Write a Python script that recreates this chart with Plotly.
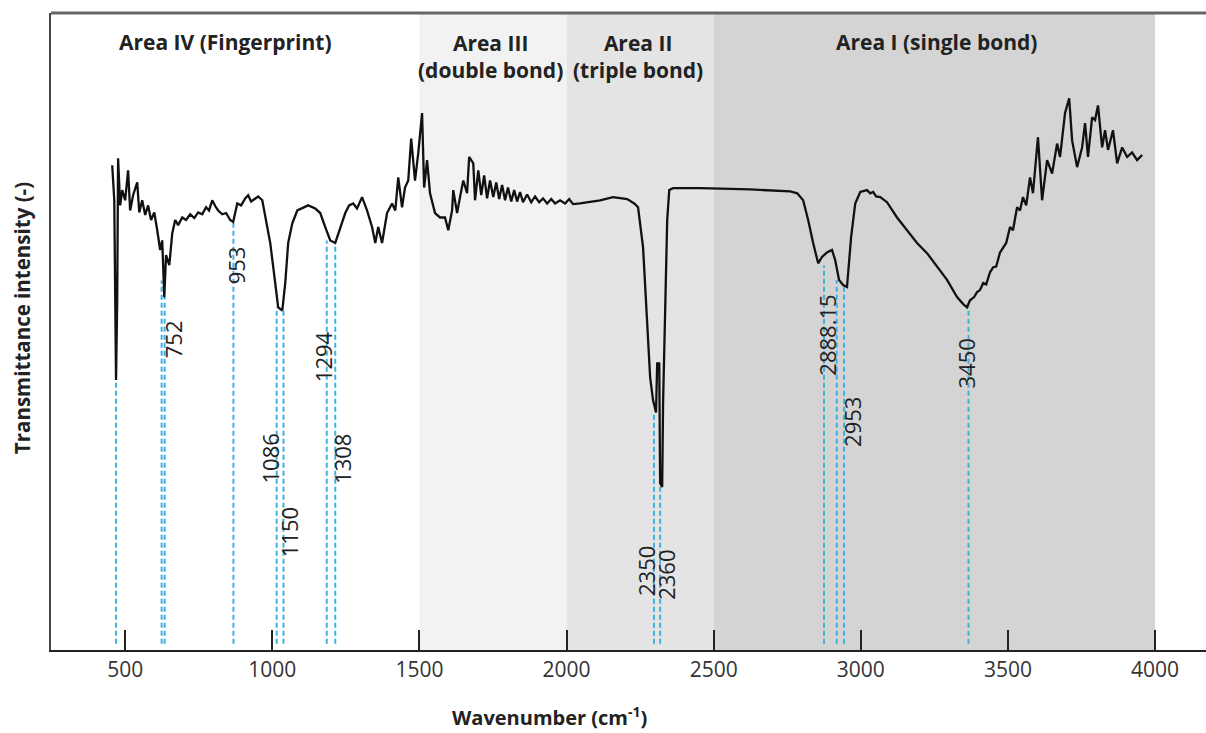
import plotly.graph_objects as go

# ---------------- data ----------------
wavenumber = [456, 463, 469, 473, 476, 483, 490, 500, 510, 517, 527, 541, 548, 558, 568, 578, 588, 599,
              609, 619, 626, 633, 639, 650, 660, 670, 680, 694, 707, 721, 735, 748, 762, 775, 785, 796,
              806, 816, 830, 843, 857, 867, 881, 894, 908, 918, 928, 942, 952, 966, 983, 993, 1010, 1020,
              1034, 1044, 1054, 1068, 1085, 1101, 1122, 1146, 1163, 1180, 1197, 1214, 1231, 1248, 1261,
              1275, 1288, 1305, 1322, 1339, 1350, 1360, 1373, 1390, 1407, 1418, 1428, 1441, 1451, 1462,
              1472, 1485, 1496, 1509, 1516, 1526, 1536, 1553, 1570, 1587, 1598, 1611, 1615, 1628, 1638,
              1649, 1662, 1669, 1683, 1689, 1700, 1710, 1720, 1730, 1740, 1751, 1761, 1771, 1781, 1791,
              1801, 1812, 1822, 1832, 1842, 1852, 1866, 1880, 1893, 1907, 1920, 1934, 1948, 1961, 1978,
              1995, 2009, 2022, 2046, 2080, 2114, 2158, 2206, 2230, 2243, 2260, 2274, 2284, 2294, 2304,
              2308, 2315, 2318, 2325, 2328, 2335, 2342, 2349, 2362, 2454, 2624, 2760, 2784, 2804, 2821,
              2838, 2855, 2868, 2885, 2902, 2913, 2926, 2940, 2953, 2957, 2967, 2981, 2998, 3021, 3032,
              3042, 3052, 3066, 3089, 3123, 3157, 3191, 3225, 3259, 3293, 3327, 3348, 3361, 3371, 3385,
              3395, 3405, 3416, 3426, 3439, 3450, 3460, 3473, 3483, 3494, 3507, 3517, 3531, 3541, 3551,
              3562, 3575, 3585, 3602, 3616, 3633, 3650, 3667, 3677, 3694, 3708, 3718, 3735, 3752, 3762,
              3772, 3786, 3796, 3806, 3820, 3830, 3840, 3857, 3871, 3888, 3905, 3922, 3939, 3956]
transmittance = [76.1, 70.6, 42.4, 54.9, 77.2, 69.8, 72.2, 70.6, 75.3, 69.0, 71.4, 73.4, 68.7, 70.6, 68.3,
                 69.8, 67.5, 68.7, 65.9, 62.8, 64.3, 55.4, 62.0, 60.4, 65.4, 67.5, 66.7, 67.9, 67.5, 68.4,
                 67.8, 68.7, 68.4, 69.5, 69.0, 70.6, 69.7, 69.0, 68.4, 68.6, 67.5, 67.2, 70.1, 69.8, 70.9,
                 71.4, 70.4, 70.9, 71.2, 70.6, 66.4, 63.9, 57.6, 53.8, 53.3, 57.6, 63.9, 67.0, 69.0, 69.3,
                 69.8, 69.3, 68.6, 66.4, 64.3, 63.9, 66.4, 68.6, 69.8, 70.1, 69.3, 71.1, 69.0, 66.4, 63.9,
                 66.4, 63.9, 68.6, 70.1, 69.0, 74.2, 69.5, 72.6, 73.7, 80.3, 73.7, 78.0, 84.3, 72.6, 76.9,
                 71.7, 68.6, 67.9, 67.9, 65.9, 69.0, 72.2, 68.6, 71.1, 73.7, 71.7, 77.4, 76.4, 70.6, 75.3,
                 71.4, 74.5, 70.9, 73.7, 71.1, 73.4, 70.8, 73.0, 70.6, 72.6, 70.4, 72.2, 70.4, 71.9, 70.3,
                 71.5, 70.3, 71.2, 70.3, 70.9, 70.1, 70.8, 70.1, 70.6, 70.1, 70.8, 70.0, 70.1, 70.3, 70.6,
                 71.1, 70.8, 70.1, 69.5, 63.2, 51.8, 42.8, 39.2, 37.3, 45.0, 45.0, 26.2, 25.6, 38.8, 54.4,
                 67.5, 72.2, 72.5, 72.5, 72.3, 72.0, 71.7, 70.6, 67.5, 63.9, 60.7, 61.7, 62.4, 62.8, 61.2,
                 58.1, 57.3, 57.0, 59.6, 64.8, 70.1, 71.9, 72.2, 71.7, 71.9, 71.2, 71.1, 70.3, 67.9, 65.9,
                 63.9, 62.3, 60.1, 58.1, 55.4, 54.3, 53.8, 54.9, 55.4, 56.2, 56.5, 57.6, 57.4, 59.3, 60.1,
                 60.2, 62.4, 63.2, 63.9, 66.4, 65.9, 69.5, 69.0, 71.1, 69.8, 74.2, 71.7, 80.5, 70.6, 76.9,
                 74.8, 79.5, 77.4, 84.3, 86.6, 80.0, 75.8, 78.9, 82.7, 77.4, 83.6, 83.2, 85.5, 78.9, 81.6,
                 78.5, 81.6, 76.4, 78.9, 77.4, 78.1, 76.9, 77.7]

# marker (dashed) lines: position and height where they meet the curve
marker_pos = [469, 624, 634, 868, 1015, 1038, 1185, 1214, 2297, 2318, 2875, 2918, 2943, 3366]
marker_top = [42.4, 58.0, 55.4, 67.2, 53.8, 53.3, 64.3, 63.9, 37.3, 26.2, 60.4, 58.1, 57.0, 53.8]
marker_base = 1.0

# peak labels
peak_labels = ["752", "953", "1086", "1150", "1294", "1308", "2350", "2360", "2888.15", "2953", "3450"]
peak_label_x = [663, 877, 993, 1057, 1173, 1237, 2270, 2338, 2885, 2970, 3358]
peak_label_y = [48.8, 60.4, 30.1, 18.5, 46.0, 30.0, 12.4, 11.8, 49.5, 35.8, 45.0]

# spectral areas
area_start = [1500, 2000, 2500]
area_end = [2000, 2500, 4000]
area_colors = ["#f2f2f2", "#e4e4e4", "#d4d4d4"]
area_label_x = [840, 1740, 2243, 3256]
area_label_y = [0.954, 0.931, 0.931, 0.954]
area_label_text = ["Area IV (Fingerprint)", "Area III<br>(double bond)", "Area II<br>(triple bond)",
                   "Area I (single bond)"]

x_ticks = [500, 1000, 1500, 2000, 2500, 3000, 3500, 4000]

FONT = "Open Sans"

fig = go.Figure()

for s, e, c in zip(area_start, area_end, area_colors):
    fig.add_shape(type="rect", xref="x", yref="paper", x0=s, x1=e, y0=0, y1=1,
                  fillcolor=c, line_width=0, layer="below")

for xp, yt in zip(marker_pos, marker_top):
    fig.add_trace(go.Scatter(x=[xp, xp], y=[marker_base, yt], mode="lines",
                             line=dict(color="#3fb0e0", width=2, dash="5px,3px"),
                             hoverinfo="skip", showlegend=False))

fig.add_trace(go.Scatter(x=wavenumber, y=transmittance, mode="lines",
                         line=dict(color="#111111", width=2.3), showlegend=False))

for t, xx, yy in zip(peak_labels, peak_label_x, peak_label_y):
    fig.add_annotation(x=xx, y=yy, xref="x", yref="y", text=t, textangle=-90, showarrow=False,
                       font=dict(family=FONT, size=22, color="#222222"))

for t, xx, yy in zip(area_label_text, area_label_x, area_label_y):
    fig.add_annotation(x=xx, y=yy, xref="x", yref="paper", text="<b>" + t + "</b>", showarrow=False,
                       font=dict(family=FONT, size=21, color="#222222"), align="center",
                       yanchor="middle", xanchor="center")

# top border
fig.add_shape(type="line", xref="paper", yref="paper", x0=0, x1=1, y0=1, y1=1,
              line=dict(color="#666666", width=3))

fig.add_annotation(x=0.432, y=-0.104, xref="paper", yref="paper",
                   text="<b>Wavenumber (cm<sup>-1</sup>)</b>", showarrow=False,
                   font=dict(family=FONT, size=20, color="#222222"), yanchor="middle")
fig.add_annotation(x=-0.0251, y=0.521, xref="paper", yref="paper",
                   text="<b>Transmittance intensity (-)</b>", textangle=-90, showarrow=False,
                   font=dict(family=FONT, size=20.5, color="#222222"), xanchor="center",
                   yanchor="middle")

fig.update_layout(
    width=1206, height=733,
    margin=dict(l=51, r=0, t=13, b=83),
    paper_bgcolor="white", plot_bgcolor="white",
    xaxis=dict(range=[248, 4173], tickvals=x_ticks, ticks="inside", ticklen=20, tickwidth=2,
               tickcolor="#222222", showline=True, linecolor="#222222", linewidth=2,
               showgrid=False, zeroline=False,
               tickfont=dict(family=FONT, size=21, color="#333333")),
    yaxis=dict(range=[0, 100], showticklabels=False, ticks="", showline=True,
               linecolor="#444444", linewidth=2, showgrid=False, zeroline=False),
)

fig.write_html("out.html")
